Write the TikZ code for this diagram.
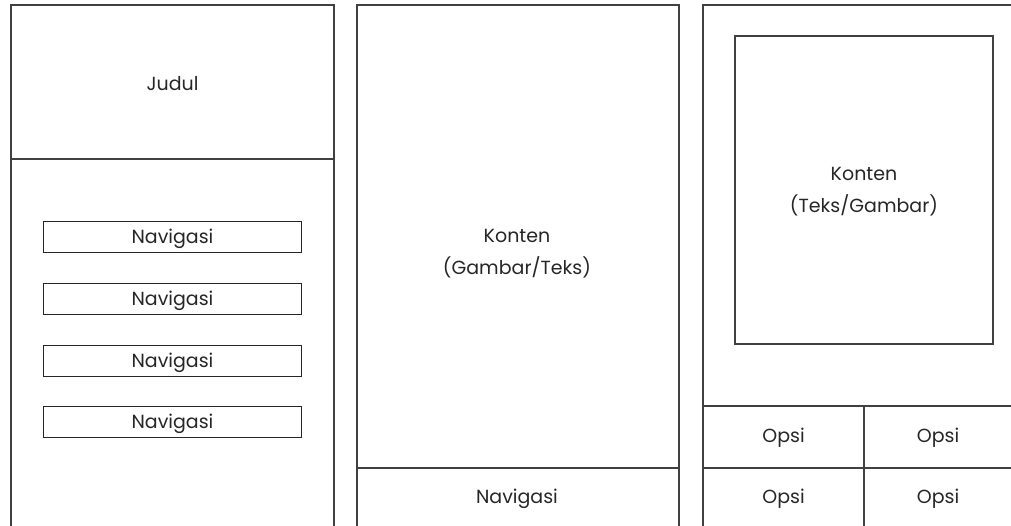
\documentclass[tikz,border=0pt]{standalone}
\usepackage{fontspec}
\setmainfont{Poppins}
\begin{document}
\begin{tikzpicture}[x=1pt,y=-1pt,
  frame/.style={draw=black!75,line width=1.2pt},
  navbox/.style={draw=black!85,line width=1pt,minimum width=258pt,minimum height=31pt,inner sep=0pt,anchor=north west},
  lbl/.style={font=\fontsize{19}{32}\selectfont,text=black!85,align=center,yshift=-2pt}]
\useasboundingbox (0,0) rectangle (1011,526);
\clip (0,0) rectangle (1011,526);
% panel 1
\draw[frame] (11,540) -- (11,5) -- (334,5) -- (334,540);
\draw[frame] (11,159) -- (334,159);
\node[lbl] (judul) at (172.5,82) {Judul};
\node[navbox] (n1) at (43,221) {};
\node[navbox] (n2) at (43,283) {};
\node[navbox] (n3) at (43,345) {};
\node[navbox] (n4) at (43,406) {};
\node[lbl] at (n1.center) {Navigasi};
\node[lbl] at (n2.center) {Navigasi};
\node[lbl] at (n3.center) {Navigasi};
\node[lbl] at (n4.center) {Navigasi};
% panel 2
\draw[frame] (357,540) -- (357,5) -- (679,5) -- (679,540);
\draw[frame] (357,468) -- (679,468);
\node[lbl] (k2) at (517,252) {Konten\\(Gambar/Teks)};
\node[lbl] (nav2) at (517,497) {Navigasi};
% panel 3
\draw[frame] (703,540) -- (703,5) -- (1020,5);
\draw[frame] (735,36) rectangle (993,344);
\node[lbl] (k3) at (864,190) {Konten\\(Teks/Gambar)};
\draw[frame] (703,406) -- (1020,406);
\draw[frame] (703,468) -- (1020,468);
\draw[frame] (864,406) -- (864,540);
\node[lbl] (o1) at (783.5,436) {Opsi};
\node[lbl] (o2) at (938,436) {Opsi};
\node[lbl] (o3) at (783.5,497) {Opsi};
\node[lbl] (o4) at (938,497) {Opsi};
\end{tikzpicture}
\end{document}
